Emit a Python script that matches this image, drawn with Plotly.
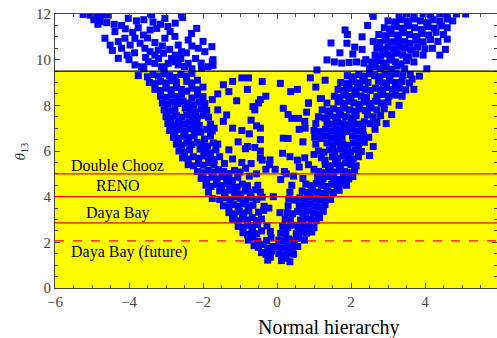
import plotly.graph_objects as go

# Scan points (x, theta13 in degrees), grouped by region of the V
left_arm_low = [
    (-0.25, 1.22), (-0.18, 1.35),
    (-0.42, 1.55), (-0.30, 1.48), (-0.15, 1.62),
    (-0.62, 1.85), (-0.50, 1.78), (-0.38, 1.90), (-0.25, 1.75), (-0.12, 1.82),
    (-0.78, 2.10), (-0.65, 2.18), (-0.52, 2.05), (-0.28, 2.08), (-0.16, 2.20),
    (-0.92, 2.42), (-0.80, 2.35), (-0.68, 2.45), (-0.55, 2.38), (-0.42, 2.50), (-0.18, 2.48),
    (-1.05, 2.70), (-0.92, 2.65), (-0.80, 2.75), (-0.66, 2.68), (-0.52, 2.78), (-0.27, 2.72),
    (-1.20, 3.00), (-1.06, 2.95), (-0.93, 3.05), (-0.80, 2.98), (-0.67, 3.08), (-0.55, 2.95), (-0.42, 3.02),
    (-1.30, 3.30), (-1.16, 3.25), (-1.02, 3.35), (-0.90, 3.28), (-0.76, 3.38), (-0.50, 3.32), (-0.36, 3.40),
    (-1.45, 3.60), (-1.30, 3.55), (-1.18, 3.65), (-1.05, 3.58), (-0.92, 3.68), (-0.78, 3.55), (-0.65, 3.62), (-0.35, 3.58),
    (-1.75, 3.92), (-1.55, 3.88), (-1.40, 3.95), (-1.27, 3.85), (-1.12, 3.98), (-0.98, 3.90), (-0.85, 3.85), (-0.70, 3.95), (-0.55, 3.88), (-0.40, 3.98),
    (-1.85, 4.20), (-1.55, 4.25), (-1.42, 4.18), (-1.28, 4.28), (-1.15, 4.20), (-1.00, 4.12), (-0.86, 4.25), (-0.72, 4.18), (-0.58, 4.30), (-0.45, 4.20),
    (-1.92, 4.50), (-1.78, 4.45), (-1.64, 4.55), (-1.50, 4.48), (-1.36, 4.58), (-1.22, 4.50), (-1.08, 4.42), (-0.94, 4.55), (-0.80, 4.48), (-0.52, 4.50),
    (-2.05, 4.80), (-1.90, 4.75), (-1.76, 4.85), (-1.62, 4.78), (-1.48, 4.88), (-1.34, 4.80), (-1.20, 4.72), (-1.06, 4.85), (-0.75, 4.90),
    (-2.15, 5.10), (-2.00, 5.05), (-1.86, 5.15), (-1.72, 5.08), (-1.58, 5.18), (-1.44, 5.10), (-1.30, 5.02), (-1.15, 5.15), (-1.00, 5.08),
]

left_arm_high = [
    (-2.40, 5.40), (-2.26, 5.35), (-2.12, 5.45), (-1.98, 5.38), (-1.84, 5.48), (-1.70, 5.40), (-1.42, 5.45),
    (-2.55, 5.70), (-2.40, 5.65), (-2.26, 5.75), (-2.12, 5.68), (-1.98, 5.78), (-1.84, 5.70), (-1.70, 5.62), (-1.55, 5.75),
    (-2.65, 6.00), (-2.50, 5.95), (-2.36, 6.05), (-2.08, 6.08), (-1.94, 6.00), (-1.80, 5.92), (-1.65, 6.05),
    (-2.72, 6.30), (-2.58, 6.25), (-2.44, 6.35), (-2.30, 6.28), (-2.16, 6.38), (-2.02, 6.30), (-1.88, 6.22), (-1.72, 6.35),
    (-2.80, 6.60), (-2.66, 6.55), (-2.52, 6.65), (-2.38, 6.58), (-2.24, 6.68), (-1.96, 6.52), (-1.80, 6.65),
    (-2.90, 6.90), (-2.76, 6.85), (-2.62, 6.95), (-2.48, 6.88), (-2.34, 6.98), (-2.20, 6.90), (-2.06, 6.82), (-1.90, 6.95), (-1.75, 6.88),
    (-2.95, 7.20), (-2.80, 7.15), (-2.66, 7.25), (-2.52, 7.18), (-2.38, 7.28), (-2.24, 7.20), (-2.10, 7.12), (-1.80, 7.18),
    (-3.00, 7.50), (-2.86, 7.45), (-2.72, 7.55), (-2.58, 7.48), (-2.44, 7.58), (-2.30, 7.50), (-2.16, 7.42), (-2.00, 7.55), (-1.85, 7.48),
    (-3.05, 7.80), (-2.90, 7.75), (-2.76, 7.85), (-2.48, 7.88), (-2.34, 7.80), (-2.20, 7.72), (-2.05, 7.85), (-1.90, 7.78),
    (-3.10, 8.10), (-2.96, 8.05), (-2.82, 8.15), (-2.68, 8.08), (-2.54, 8.18), (-2.40, 8.10), (-2.26, 8.02), (-2.10, 8.15), (-1.95, 8.08),
    (-3.15, 8.40), (-3.00, 8.35), (-2.86, 8.45), (-2.72, 8.38), (-2.58, 8.48), (-2.30, 8.32), (-2.15, 8.45), (-2.00, 8.38),
    (-3.30, 8.70), (-3.15, 8.65), (-3.00, 8.75), (-2.86, 8.68), (-2.72, 8.78), (-2.58, 8.70), (-2.44, 8.62), (-2.30, 8.75), (-2.15, 8.68), (-2.00, 8.80),
    (-3.45, 9.00), (-3.30, 8.95), (-3.15, 9.05), (-3.00, 8.98), (-2.86, 9.08), (-2.72, 9.00), (-2.44, 9.05), (-2.30, 8.98), (-2.15, 9.10),
    (-3.75, 9.30), (-3.50, 9.25), (-3.35, 9.35), (-3.20, 9.28), (-3.05, 9.38), (-2.90, 9.30), (-2.75, 9.22), (-2.60, 9.35), (-2.45, 9.28), (-2.30, 9.40),
]

inner_scatter = [
    (-1.36, 7.58), (-1.09, 8.20), (-1.20, 7.00), (-0.95, 6.90), (-0.75, 6.75), (-0.55, 7.10), (-0.65, 7.95),
    (-0.50, 8.10), (-1.60, 6.30), (-1.30, 6.05), (-1.05, 6.40), (-0.85, 6.10), (-0.60, 6.15), (-0.45, 6.00),
    (-1.20, 5.65), (-0.95, 5.50), (-0.70, 5.45), (-0.40, 5.60), (-0.30, 5.20), (-0.55, 5.00), (-0.85, 5.25),
    (-1.45, 8.90), (-1.20, 9.05), (-0.95, 9.20), (-0.77, 9.20), (-0.40, 9.04), (-1.60, 8.50), (-1.30, 8.60),
    (-0.80, 8.70), (-1.75, 8.25), (-1.60, 7.80), (-1.45, 7.30), (-1.70, 7.00), (-0.30, 8.40),
    (0.09, 8.96), (-0.45, 8.25), (0.37, 8.60), (0.55, 8.70), (-0.60, 7.80), (0.30, 7.60), (0.75, 7.30),
    (-0.70, 7.35), (-0.45, 7.00), (0.60, 6.95), (0.30, 6.55), (-0.45, 6.50), (-0.80, 6.20), (0.15, 5.90),
    (-0.45, 5.70), (0.35, 5.75), (0.55, 5.60), (-0.20, 5.40), (0.20, 5.10), (-0.05, 5.20),
    (0.17, 7.87), (0.17, 6.56), (-0.19, 5.61), (0.40, 7.43), (0.58, 7.43), (0.76, 7.00), (0.85, 8.10), (1.17, 8.30),
    (-0.22, 3.50), (0.08, 3.30), (-0.10, 4.00),
]

right_arm_low = [
    (0.12, 1.20), (0.25, 1.30), (0.35, 1.15),
    (0.05, 1.50), (0.18, 1.45), (0.30, 1.55), (0.45, 1.48),
    (0.02, 1.80), (0.15, 1.75), (0.28, 1.85), (0.42, 1.78), (0.56, 1.82),
    (0.05, 2.10), (0.18, 2.05), (0.32, 2.15), (0.46, 2.08), (0.60, 2.18), (0.74, 2.10),
    (0.10, 2.40), (0.24, 2.35), (0.52, 2.38), (0.66, 2.48), (0.80, 2.40), (0.94, 2.45),
    (0.15, 2.70), (0.29, 2.65), (0.43, 2.75), (0.57, 2.68), (0.71, 2.78), (0.85, 2.70), (1.00, 2.65),
    (0.22, 3.00), (0.36, 2.95), (0.64, 2.98), (0.78, 3.08), (0.92, 3.00), (1.06, 2.95), (1.15, 3.08),
    (0.28, 3.30), (0.42, 3.25), (0.56, 3.35), (0.70, 3.28), (0.84, 3.38), (0.98, 3.30), (1.12, 3.25), (1.25, 3.35),
    (0.30, 3.60), (0.60, 3.65), (0.74, 3.58), (0.88, 3.68), (1.02, 3.60), (1.16, 3.55), (1.30, 3.65),
    (0.32, 3.90), (0.48, 3.85), (0.62, 3.95), (0.76, 3.88), (0.90, 3.98), (1.04, 3.90), (1.18, 3.85), (1.32, 3.95), (1.45, 3.88),
    (0.35, 4.20), (0.68, 4.25), (0.82, 4.18), (0.96, 4.28), (1.10, 4.20), (1.24, 4.15), (1.38, 4.25), (1.52, 4.18), (1.68, 4.28),
    (0.40, 4.50), (0.78, 4.55), (0.92, 4.48), (1.06, 4.58), (1.20, 4.50), (1.34, 4.45), (1.48, 4.55), (1.62, 4.48), (1.76, 4.58), (1.88, 4.50),
    (0.70, 4.80), (1.10, 4.85), (1.24, 4.78), (1.38, 4.88), (1.52, 4.80), (1.66, 4.75), (1.80, 4.85), (1.94, 4.78), (2.05, 4.88),
    (1.12, 5.10), (1.26, 5.05), (1.40, 5.15), (1.54, 5.08), (1.68, 5.18), (1.82, 5.10), (1.96, 5.05), (2.10, 5.15),
    (0.10, 4.75), (0.25, 5.00), (0.45, 4.90), (0.60, 5.30), (0.85, 5.40), (1.00, 5.20), (0.75, 5.70), (1.00, 5.85), (1.30, 5.60),
]

right_arm_high = [
    (1.30, 5.40), (1.44, 5.35), (1.58, 5.45), (1.72, 5.38), (1.86, 5.48), (2.00, 5.40), (2.14, 5.35),
    (1.20, 5.70), (1.50, 5.75), (1.64, 5.68), (1.78, 5.78), (1.92, 5.70), (2.06, 5.65), (2.20, 5.75),
    (1.12, 6.00), (1.27, 5.95), (1.42, 6.05), (1.56, 5.98), (1.70, 6.08), (1.84, 6.00), (1.98, 5.95), (2.12, 6.05), (2.28, 5.98),
    (1.05, 6.30), (1.35, 6.35), (1.50, 6.28), (1.64, 6.38), (1.78, 6.30), (1.92, 6.25), (2.06, 6.35), (2.20, 6.28), (2.36, 6.38),
    (1.02, 6.60), (1.18, 6.55), (1.33, 6.65), (1.48, 6.58), (1.62, 6.68), (1.76, 6.60), (2.04, 6.65), (2.18, 6.58), (2.34, 6.68), (2.48, 6.60),
    (1.00, 6.90), (1.16, 6.85), (1.31, 6.95), (1.46, 6.88), (1.60, 6.98), (1.74, 6.90), (1.88, 6.85), (2.02, 6.95), (2.16, 6.88), (2.32, 6.98), (2.65, 6.95),
    (1.05, 7.20), (1.35, 7.25), (1.50, 7.18), (1.64, 7.28), (1.78, 7.20), (1.92, 7.15), (2.06, 7.25), (2.20, 7.18), (2.36, 7.28), (2.52, 7.20), (2.70, 7.25),
    (1.12, 7.50), (1.28, 7.45), (1.43, 7.55), (1.58, 7.48), (1.72, 7.58), (1.86, 7.50), (2.00, 7.45), (2.14, 7.55), (2.44, 7.58), (2.60, 7.50), (2.80, 7.55),
    (1.22, 7.80), (1.38, 7.75), (1.53, 7.85), (1.68, 7.78), (1.82, 7.88), (1.96, 7.80), (2.10, 7.75), (2.24, 7.85), (2.38, 7.78), (2.54, 7.88), (2.70, 7.80), (2.90, 7.85),
    (1.35, 8.10), (1.65, 8.15), (1.80, 8.08), (1.94, 8.18), (2.08, 8.10), (2.22, 8.05), (2.36, 8.15), (2.50, 8.08), (2.66, 8.18), (2.82, 8.10), (3.00, 8.15),
    (1.55, 8.40), (1.70, 8.35), (1.85, 8.45), (2.00, 8.38), (2.14, 8.48), (2.28, 8.40), (2.42, 8.35), (2.70, 8.38), (2.86, 8.48), (3.02, 8.40), (3.20, 8.45), (3.38, 8.40),
    (1.65, 8.70), (1.80, 8.65), (1.95, 8.75), (2.10, 8.68), (2.24, 8.78), (2.38, 8.70), (2.52, 8.65), (2.66, 8.75), (2.80, 8.68), (2.96, 8.78), (3.12, 8.70), (3.30, 8.75), (3.48, 8.68),
    (1.72, 9.00), (1.88, 8.95), (2.03, 9.05), (2.18, 8.98), (2.32, 9.08), (2.46, 9.00), (2.74, 9.05), (2.88, 8.98), (3.04, 9.08), (3.20, 9.00), (3.38, 9.05), (3.58, 8.98),
    (1.90, 9.30), (2.06, 9.25), (2.21, 9.35), (2.36, 9.28), (2.50, 9.38), (2.64, 9.30), (2.78, 9.25), (2.92, 9.35), (3.06, 9.28), (3.22, 9.38), (3.40, 9.30), (3.60, 9.35), (3.85, 9.28),
    (0.90, 9.20), (1.30, 9.10), (1.05, 8.80), (1.20, 8.30), (0.85, 8.10), (3.70, 8.70), (3.65, 9.15),
    (3.30, 8.00), (3.10, 7.60), (2.95, 7.20), (0.80, 7.70), (0.70, 6.40), (2.60, 6.20), (2.50, 5.80),
]

left_top = [
    (-5.24, 11.98), (-4.87, 11.88), (-4.74, 11.95), (-4.56, 11.95), (-4.78, 11.67), (-4.84, 11.55), (-4.60, 11.62),
    (-4.38, 11.23), (-4.65, 10.94), (-4.51, 10.64), (-4.29, 10.79), (-4.20, 10.50), (-4.29, 10.06), (-4.11, 10.94),
    (-3.97, 10.64), (-3.84, 10.94), (-3.70, 10.72), (-3.61, 11.08), (-3.57, 10.50), (-3.43, 10.35), (-3.30, 10.20),
    (-3.21, 10.42), (-3.07, 10.28), (-3.03, 10.94), (-2.89, 11.23), (-2.76, 11.02), (-2.67, 10.64), (-2.58, 10.35),
    (-2.31, 11.15), (-2.17, 11.37), (-2.13, 10.50), (-1.95, 10.35), (-1.76, 10.57), (-3.84, 9.77), (-3.66, 9.69),
    (-3.48, 9.91), (-3.30, 9.84), (-3.12, 9.69), (-2.94, 9.84), (-2.76, 9.91), (-2.67, 9.77), (-2.40, 9.84),
    (-2.04, 9.62), (-1.86, 9.69), (-4.02, 11.81), (-3.39, 11.96), (-2.58, 11.96), (-3.03, 11.81), (-3.25, 11.37),
    (-3.43, 11.30), (-2.40, 10.86), (-3.80, 11.70), (-3.60, 11.75), (-3.35, 11.65), (-3.15, 11.55), (-2.95, 11.45),
    (-2.75, 11.60), (-2.55, 11.85), (-4.10, 11.35), (-3.90, 11.20), (-3.75, 11.40), (-3.50, 10.95), (-3.30, 10.75),
    (-3.10, 10.60), (-2.90, 10.45), (-2.75, 10.20), (-2.60, 10.05), (-2.45, 10.30), (-2.30, 10.60), (-2.20, 10.05),
    (-2.05, 9.85), (-2.50, 9.70), (-2.85, 10.05), (-3.20, 10.05), (-3.55, 10.10), (-3.85, 10.30), (-4.05, 10.20),
    (-4.45, 10.40), (-4.00, 10.00), (-3.60, 9.60), (-3.05, 9.60), (-2.30, 9.60), (-1.75, 9.90), (-2.00, 10.80),
    (-4.40, 11.55), (-4.20, 11.50), (-4.95, 11.75), (-5.05, 11.95), (-1.73, 10.00), (-1.73, 9.75),
]

right_top = [
    (1.84, 11.30), (1.46, 10.73), (1.89, 10.72), (2.10, 10.55), (2.30, 10.45), (1.70, 10.30), (1.35, 9.99),
    (1.55, 9.90), (1.75, 9.85), (1.95, 9.88), (2.15, 9.90), (2.35, 9.85), (1.08, 9.55),
    (2.50, 9.62), (2.65, 9.70), (2.80, 9.60), (2.95, 9.68), (3.10, 9.58), (3.25, 9.72), (3.45, 9.60), (4.05, 9.60),
    (2.56, 9.90), (2.72, 9.95), (2.88, 9.85), (3.05, 9.98), (3.20, 9.90), (3.35, 9.82), (3.50, 9.95), (3.70, 9.90),
    (2.65, 10.20), (2.80, 10.15), (2.95, 10.25), (3.10, 10.18), (3.25, 10.28), (3.40, 10.20), (3.55, 10.12), (3.75, 10.25), (3.95, 10.20),
    (2.70, 10.50), (2.85, 10.45), (3.00, 10.55), (3.15, 10.48), (3.30, 10.58), (3.45, 10.50), (3.62, 10.42), (3.80, 10.55), (4.00, 10.48), (4.20, 10.50),
    (2.60, 10.80), (2.78, 10.75), (2.95, 10.85), (3.12, 10.78), (3.28, 10.88), (3.45, 10.80), (3.60, 10.72), (3.78, 10.85), (3.95, 10.78), (4.15, 10.88), (4.35, 10.80),
    (2.75, 11.10), (2.92, 11.05), (3.08, 11.15), (3.25, 11.08), (3.42, 11.18), (3.58, 11.10), (3.75, 11.02), (3.92, 11.15), (4.10, 11.08), (4.30, 11.20), (4.50, 11.10),
    (2.90, 11.40), (3.05, 11.35), (3.22, 11.45), (3.38, 11.38), (3.55, 11.48), (3.72, 11.40), (3.90, 11.32), (4.08, 11.45), (4.25, 11.38), (4.45, 11.48), (4.60, 11.40),
    (3.00, 11.70), (3.18, 11.65), (3.35, 11.75), (3.52, 11.68), (3.70, 11.78), (3.88, 11.70), (4.05, 11.62), (4.22, 11.75), (4.40, 11.68), (4.60, 11.78), (4.75, 11.70),
    (3.30, 11.95), (3.50, 12.00), (3.70, 11.92), (3.95, 12.00), (4.15, 11.95), (4.40, 12.00), (4.60, 11.95), (4.85, 12.00), (5.10, 12.00),
    (2.30, 11.00), (2.45, 11.50), (2.60, 11.90), (1.90, 11.10), (2.05, 10.25), (4.55, 10.45), (4.60, 10.90), (4.40, 10.20), (2.40, 10.00),
]

# Experimental sensitivity levels on theta13 (degrees)
bound_labels = ["Double Chooz", "RENO", "Daya Bay", "Daya Bay (future)"]
bound_values = [5.0, 4.0, 2.85, 2.06]
bound_dash = ["solid", "solid", "solid", "dash"]
label_x = [-4.31, -4.31, -4.31, -4.01]
label_y = [5.37, 4.48, 3.27, 1.56]

allowed_max = 9.5

groups = [left_arm_low, left_arm_high, inner_scatter, right_arm_low, right_arm_high, left_top, right_top]
xs = [p[0] for g in groups for p in g]
ys = [p[1] for g in groups for p in g]

SERIF = "Liberation Serif"

W, H = 497, 338
L, T, B = 55, 14, 50
PW = W - L
PH = H - T - B


def px_to_paper(px, py):
    return (px - L) / PW, (H - B - py) / PH


fig = go.Figure()
fig.add_trace(go.Scatter(
    x=xs, y=ys, mode="markers",
    marker=dict(symbol="square", size=7, color="#0000ff", line=dict(width=0)),
    showlegend=False, hoverinfo="skip",
))

# allowed region and its upper limit
fig.add_shape(type="rect", xref="x", yref="y", x0=-6, x1=6, y0=0, y1=allowed_max,
              fillcolor="#ffff00", line=dict(width=0), layer="below")
fig.add_shape(type="line", xref="paper", yref="y", x0=0, x1=1, y0=allowed_max, y1=allowed_max,
              line=dict(color="black", width=1.3), layer="above")

for val, dash in zip(bound_values, bound_dash):
    fig.add_shape(type="line", xref="paper", yref="y", x0=0, x1=1, y0=val, y1=val,
                  line=dict(color="#ff0000", width=1.3, dash=dash), layer="above")

for txt, lx, ly in zip(bound_labels, label_x, label_y):
    fig.add_annotation(x=lx, y=ly, xref="x", yref="y", text=txt, showarrow=False,
                       xanchor="center", yanchor="middle",
                       font=dict(family=SERIF, size=16, color="black"))

ax, ay = px_to_paper(20, 151.5)
fig.add_annotation(x=ax, y=ay, xref="paper", yref="paper", text="<i>θ</i><sub>13</sub>",
                   showarrow=False, textangle=-90, xanchor="center", yanchor="middle",
                   font=dict(family=SERIF, size=15, color="#333"))
tx, ty = px_to_paper(329, 327)
fig.add_annotation(x=tx, y=ty, xref="paper", yref="paper", text="Normal hierarchy",
                   showarrow=False, xanchor="center", yanchor="middle",
                   font=dict(family=SERIF, size=20, color="black"))

axis_common = dict(
    showline=True, linecolor="#444", linewidth=1, mirror="ticks",
    ticks="inside", ticklen=5, tickcolor="#444", tickwidth=1,
    showgrid=False, zeroline=False,
    tickfont=dict(family=SERIF, size=15, color="#444"),
    minor=dict(ticks="inside", ticklen=3, tickcolor="#444", tickwidth=1, showgrid=False, dtick=0.5),
)

fig.update_xaxes(range=[-6, -6 + PW / 37.0], dtick=2, tick0=0, **axis_common)
fig.update_yaxes(range=[0, 12], dtick=2, tick0=0, **axis_common)

fig.update_layout(
    width=W, height=H,
    margin=dict(l=L, r=0, t=T, b=B),
    paper_bgcolor="white", plot_bgcolor="white",
    showlegend=False,
)

fig.write_html("out.html")
